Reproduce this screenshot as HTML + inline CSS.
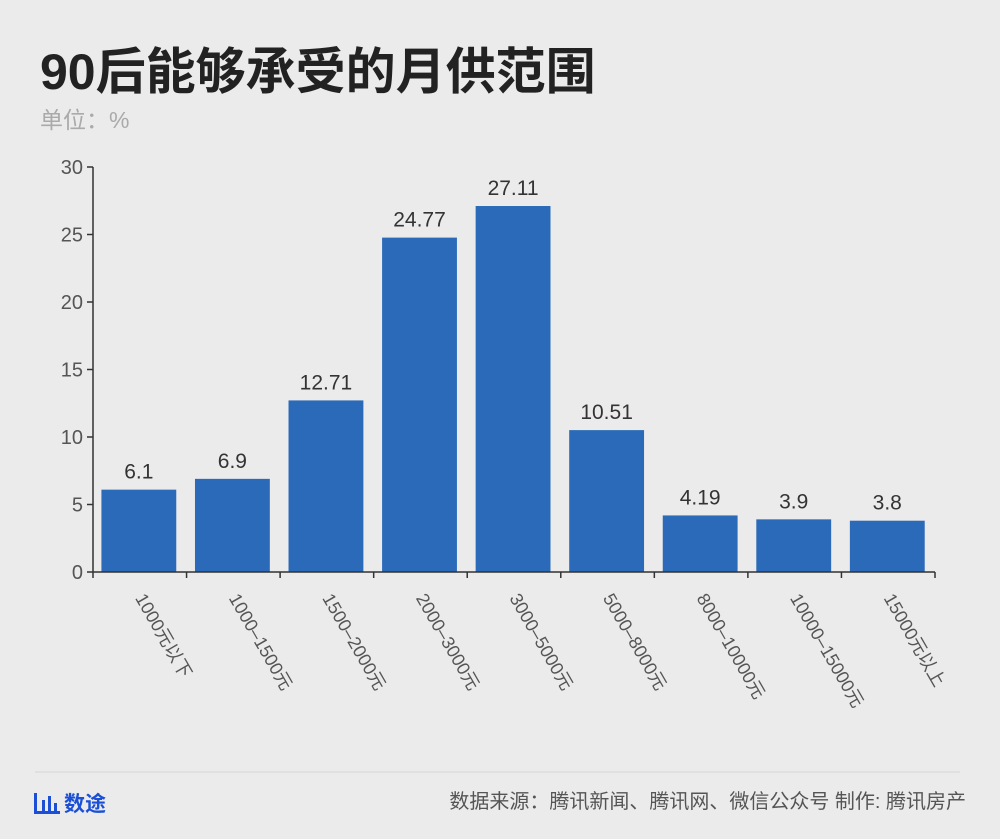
<!DOCTYPE html>
<html><head><meta charset="utf-8"><style>
body{margin:0;background:#ebebeb;width:1000px;height:834px;overflow:hidden;font-family:"Liberation Sans","Noto Sans CJK SC",sans-serif;}
</style></head><body>
<svg width="1000" height="834" xmlns="http://www.w3.org/2000/svg">
<rect width="1000" height="834" fill="#ebebeb"/>
<text x="40" y="89" font-size="50" font-weight="bold" fill="#222" font-family="Liberation Sans, Noto Sans CJK SC, sans-serif">90后能够承受的月供范围</text>
<text x="40" y="128" font-size="23" fill="#aaa">单位：%</text>
<g id="plot"></g>
<line x1="35" y1="772" x2="960" y2="772" stroke="#e0e0e0" stroke-width="2"/>
<g>
<rect x="34" y="793" width="3" height="20" fill="#1a4fd6"/><rect x="42" y="800" width="3" height="11" fill="#1a4fd6"/><rect x="48" y="796" width="3" height="15" fill="#1a4fd6"/><rect x="54" y="803" width="3" height="8" fill="#1a4fd6"/><rect x="34" y="811" width="26" height="3" fill="#1a4fd6"/>
<text x="64" y="811" font-size="21" font-weight="bold" fill="#1a4fd6">数途</text>
</g>
<text x="966" y="808" font-size="20" fill="#555" text-anchor="end">数据来源：腾讯新闻、腾讯网、微信公众号 制作: 腾讯房产</text>
</svg>
<script>
const categories=["1000元以下","1000–1500元","1500–2000元","2000–3000元","3000–5000元","5000–8000元","8000–10000元","10000–15000元","15000元以上"];
const values=[6.1,6.9,12.71,24.77,27.11,10.51,4.19,3.9,3.8];
const valueLabels=["6.1","6.9","12.71","24.77","27.11","10.51","4.19","3.9","3.8"];
const yTicks=[0,5,10,15,20,25,30];
const NS="http://www.w3.org/2000/svg";
const g=document.getElementById('plot');
const x0=93,x1=935,y0=572,y1=167,yMax=30;
const band=(x1-x0)/categories.length;
const yS=v=>y0-(v/yMax)*(y0-y1);
const xS=i=>x0+i*band;
function mk(t,a){const e=document.createElementNS(NS,t);for(const k in a)e.setAttribute(k,a[k]);g.appendChild(e);return e;}
yTicks.forEach(t=>{
 const l=mk('line',{x1:x0-6,x2:x0,y1:yS(t),y2:yS(t),stroke:'#333','stroke-width':1.5});
 
 
 const tx=mk('text',{x:x0-10,y:yS(t)+7,'font-size':20,fill:'#555','text-anchor':'end'});
 tx.textContent=t;
 
 
});
values.forEach((v,i)=>{
 const bx=xS(i)+band*0.09,bw=band*0.8;
 const r=mk('rect',{x:bx,y:yS(v),width:bw,height:y0-yS(v),fill:'#2a6ab8'});
 
 
 const t=mk('text',{x:bx+bw/2,y:yS(v)-11,'font-size':21,fill:'#333','text-anchor':'middle'});
 t.textContent=valueLabels[i];
 
 
 const cx=xS(i)+band/2-5;
 const lt=mk('text',{x:cx,y:598,'font-size':18,fill:'#555',transform:`rotate(60 ${cx} 598)`});
 lt.textContent=categories[i];
 
 
});
for(let i=0;i<=categories.length;i++){
 const l=mk('line',{x1:xS(i),x2:xS(i),y1:y0,y2:y0+6,stroke:'#333','stroke-width':1.5});
 
 
}
const ya=mk('line',{x1:x0,x2:x0,y1:y1,y2:y0,stroke:'#333','stroke-width':1.5});


const xa=mk('line',{x1:x0,x2:x1,y1:y0,y2:y0,stroke:'#333','stroke-width':1.5});


</script>
</body></html>
